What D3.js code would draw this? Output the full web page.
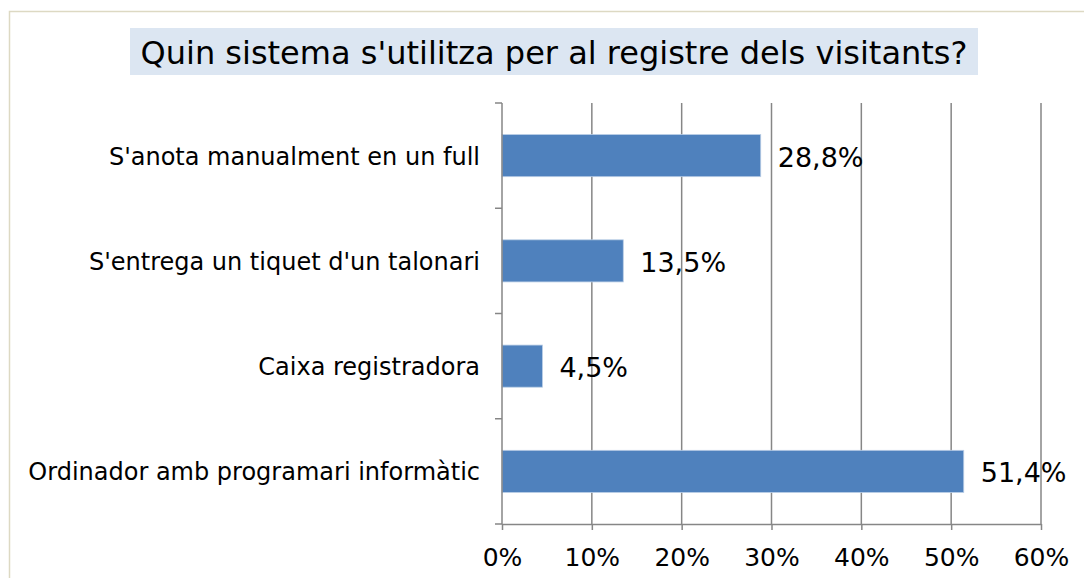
<!DOCTYPE html>
<html>
<head>
<meta charset="utf-8">
<script src="https://cdn.jsdelivr.net/npm/d3@7"></script>
<style>
  body { margin: 0; background: #fff; }
  text { font-family: "DejaVu Sans", Verdana, sans-serif; }
</style>
</head>
<body>
<script>
var w = 1084;
var h = 578;

var categories = ["S'anota manualment en un full", "S'entrega un tiquet d'un talonari", "Caixa registradora", "Ordinador amb programari informàtic"];
var values = [28.8, 13.5, 4.5, 51.4];
var valueLabels = ["28,8%", "13,5%", "4,5%", "51,4%"];
var ticks = [0, 10, 20, 30, 40, 50, 60];
var title = "Quin sistema s'utilitza per al registre dels visitants?";

var svg = d3.select("body").append("svg")
            .attr("width", w)
            .attr("height", h);

// outer frame
svg.append("rect")
   .attr("x", 9.5).attr("y", 11.5)
   .attr("width", w + 20).attr("height", h + 20)
   .attr("fill", "none")
   .attr("stroke", "#ddd9c3")
   .attr("stroke-width", 1.5);

var pLeft = 502, pRight = 1041, pTop = 103, pBottom = 524;

var x = d3.scaleLinear().domain([0, 60]).range([pLeft, pRight]);
var y = d3.scaleBand().domain(categories).range([pTop, pBottom]).paddingInner(0.6).paddingOuter(0.3);

// title
var tg = svg.append("g");
tg.append("rect")
  .attr("x", 130).attr("y", 28)
  .attr("width", 848).attr("height", 47)
  .attr("fill", "#dce6f2");
tg.append("text")
  .attr("x", 554).attr("y", 64)
  .attr("text-anchor", "middle")
  .attr("font-size", "32px")
  .attr("fill", "#000")
  .text(title);

// gridlines
svg.selectAll("line.grid")
   .data(ticks.slice(1))
   .enter()
   .append("line")
   .attr("class", "grid")
   .attr("x1", function(d){ return x(d); })
   .attr("x2", function(d){ return x(d); })
   .attr("y1", pTop)
   .attr("y2", pBottom)
   .attr("stroke", "#868686")
   .attr("stroke-width", 1.5);

// bars
svg.selectAll("rect.bar")
   .data(values)
   .enter()
   .append("rect")
   .attr("class", "bar")
   .attr("x", x(0))
   .attr("y", function(d, i){ return y(categories[i]); })
   .attr("width", function(d){ return x(d) - x(0); })
   .attr("height", y.bandwidth())
   .attr("fill", "#4f81bd")
   .attr("stroke", "#b9cde5")
   .attr("stroke-width", 0.8);

// value labels
svg.selectAll("text.val")
   .data(values)
   .enter()
   .append("text")
   .attr("class", "val")
   .attr("x", function(d){ return x(d) + 17; })
   .attr("y", function(d, i){ return y(categories[i]) + y.bandwidth() / 2 + 11; })
   .attr("font-size", "27px")
   .attr("fill", "#000")
   .text(function(d, i){ return valueLabels[i]; });

// x axis
var xAxis = d3.axisBottom(x)
              .tickValues(ticks)
              .tickFormat(function(d){ return d + "%"; })
              .tickSize(6)
              .tickSizeOuter(0);
var gx = svg.append("g")
   .attr("transform", "translate(0," + pBottom + ")")
   .call(xAxis);
gx.select(".domain").attr("stroke", "#868686").attr("stroke-width", 1.5);
gx.selectAll(".tick line").attr("stroke", "#868686").attr("stroke-width", 1.5);
gx.selectAll(".tick text")
  .attr("font-family", "DejaVu Sans, sans-serif")
  .attr("font-size", "25px")
  .attr("fill", "#000")
  .attr("y", 42)
  .attr("dy", 0);

// y axis: ticks at band boundaries
var bounds = d3.range(categories.length + 1).map(function(i){ return pTop + i * (pBottom - pTop) / categories.length; });
svg.append("line")
   .attr("x1", pLeft).attr("x2", pLeft)
   .attr("y1", pTop).attr("y2", pBottom)
   .attr("stroke", "#868686").attr("stroke-width", 1.5);
svg.selectAll("line.ytick")
   .data(bounds)
   .enter()
   .append("line")
   .attr("class", "ytick")
   .attr("x1", pLeft - 7).attr("x2", pLeft)
   .attr("y1", function(d){ return d; })
   .attr("y2", function(d){ return d; })
   .attr("stroke", "#868686").attr("stroke-width", 1.5);

// category labels
svg.selectAll("text.cat")
   .data(categories)
   .enter()
   .append("text")
   .attr("class", "cat")
   .attr("x", 480)
   .attr("y", function(d){ return y(d) + y.bandwidth() / 2 + 9; })
   .attr("text-anchor", "end")
   .attr("font-size", "24px")
   .attr("fill", "#000")
   .text(function(d){ return d; });
</script>
</body>
</html>
